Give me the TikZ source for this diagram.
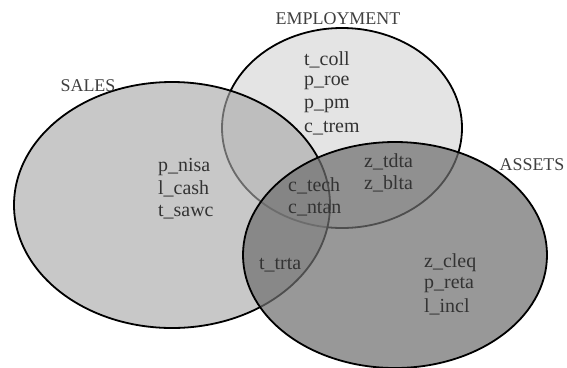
\documentclass[tikz,border=0pt]{standalone}
\usepackage{fontspec}
\setmainfont{Liberation Serif}
\definecolor{empfill}{HTML}{E4E4E4}
\definecolor{salesfill}{gray}{0.66}
\definecolor{assetsfill}{gray}{0.43}
\tikzset{
  setline/.style={line width=1.8bp, draw=black},
  item/.style={anchor=west, inner sep=0pt, font=\fontsize{20}{23}\selectfont, text=black!80, align=left},
  title/.style={inner sep=0pt, font=\fontsize{18}{20}\selectfont, text=black!75}
}
\begin{document}
\begin{tikzpicture}[x=1bp,y=-1bp]
\useasboundingbox (0,0) rectangle (567,367);
\fill[white] (0,0) rectangle (567,367);
\begin{scope}
\clip (0,0) rectangle (567,367);
\path[setline, fill=empfill] (342,128) ellipse [x radius=120, y radius=100];
\path[setline, fill=salesfill, fill opacity=0.63] (172,205) ellipse [x radius=158, y radius=123];
\path[setline, fill=assetsfill, fill opacity=0.71] (395,255) ellipse [x radius=152, y radius=113];
\end{scope}
\node[title] (emp) at (338,19) {EMPLOYMENT};
\node[title] (sal) at (88,86) {SALES};
\node[title] (ass) at (532,165) {ASSETS};
\node[item] (e1) at (304,60) {t\_coll};
\node[item] (e2) at (304,83) {p\_roe};
\node[item] (e3) at (304,106) {p\_pm};
\node[item] (e4) at (304,128) {c\_trem};
\node[item] (s1) at (158,167) {p\_nisa};
\node[item] (s2) at (158,189) {l\_cash};
\node[item] (s3) at (158,212) {t\_sawc};
\node[item] (c1) at (288,186) {c\_tech};
\node[item] (c2) at (288,209) {c\_ntan};
\node[item] (z1) at (364,162) {z\_tdta};
\node[item] (z2) at (364,184) {z\_blta};
\node[item] (t1) at (259,265) {t\_trta};
\node[item] (a1) at (424,263) {z\_cleq};
\node[item] (a2) at (424,285) {p\_reta};
\node[item] (a3) at (424,307) {l\_incl};
\end{tikzpicture}
\end{document}
